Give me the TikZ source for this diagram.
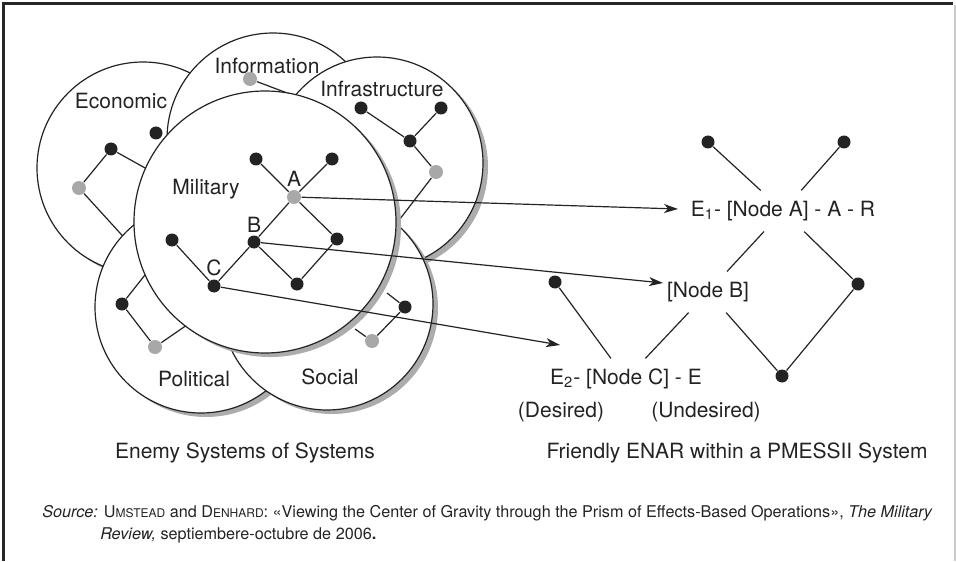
\documentclass[tikz,border=0pt]{standalone}
\usepackage{fontspec}
\setmainfont{TeX Gyre Heros}
\usetikzlibrary{arrows.meta, positioning, shadows}
\definecolor{inkgray}{RGB}{35,35,35}
\definecolor{dotgray}{RGB}{168,168,168}
\definecolor{shadegray}{RGB}{172,172,172}

\begin{document}
\begin{tikzpicture}[x=0.5pt, y=-0.5pt, line width=0.6pt, color=inkgray,
  font=\fontsize{10.5}{12.6}\selectfont,
  sys/.style={circle, draw=inkgray, fill=white, inner sep=0pt,
    drop shadow={shadow xshift=2.5pt, shadow yshift=-2pt, fill=shadegray, opacity=1}},
  outer/.style={sys, minimum size=106pt},
  bdot/.style={circle, fill=inkgray, inner sep=0pt, minimum size=6.5pt},
  gdot/.style={circle, fill=dotgray, inner sep=0pt, minimum size=7pt},
  tag/.style={label={[inner sep=1pt]above:#1}},
  effect/.style={inner sep=2pt, minimum height=20pt},
  hit/.style={-{Stealth[length=7pt, width=4.5pt, inset=2pt]}},
  srcfont/.style={font=\fontsize{8.1}{9.7}\selectfont}
]
\useasboundingbox (0,0) rectangle (956,561);

% frame
\draw[line width=1.5pt, black!85] (3,561) -- (3,4) -- (953,4);
\draw[line width=0.8pt, black!20] (955,5) -- (955,561);

% economic
\node[outer] (econ) at (143,168) {};
\node (econlbl) at (121,101) {Economic};
\node[bdot] (e1) at (111,149) {};
\node[gdot] (e2) at (79,188) {};
\node[bdot] (e3) at (156,133) {};
\coordinate (e1end) at (190,193);
\coordinate (e2end) at (150,266);
\draw (e2) -- (e1) -- (e1end);
\draw (e2) -- (e2end);

% information
\node[outer] (info) at (273,139) {};
\node (infolbl) at (267,66) {Information};
\node[gdot] (i1) at (250,79) {};
\coordinate (i1end) at (340,113);
\draw (i1) -- (i1end);

% infrastructure
\node[outer] (infra) at (377,163) {};
\node (infralbl) at (382,89) {Infrastructure};
\node[bdot] (f1) at (361,108) {};
\node[bdot] (f2) at (441,108) {};
\node[bdot] (f3) at (410,141) {};
\node[gdot] (f4) at (436,172) {};
\coordinate (f4end) at (380,245);
\draw (f1) -- (f3) -- (f2);
\draw (f3) -- (f4) -- (f4end);

% political
\node[outer] (pol) at (201,307) {};
\node (pollbl) at (194,379) {Political};
\node[bdot] (p1) at (122,304) {};
\node[gdot] (p2) at (155,347) {};
\coordinate (p1end) at (160,256);
\coordinate (p2end) at (200,316);
\draw (p1end) -- (p1) -- (p2) -- (p2end);

% social
\node[outer] (soc) at (327,304) {};
\node (soclbl) at (330,377) {Social};
\node[bdot] (s1) at (405,307) {};
\node[gdot] (s2) at (372,341) {};
\coordinate (s1end) at (387,293);
\coordinate (s2end) at (355,329);
\draw (s1end) -- (s1) -- (s2) -- (s2end);

% military
\node[sys, minimum size=131pt] (mil) at (265,222) {};
\node (millbl) at (206,189) {Military};
\node[bdot] (m1) at (256,159) {};
\node[bdot] (m2) at (332,159) {};
\node[gdot, tag=A] (mA) at (294,197) {};
\node[bdot] (m3) at (337,239) {};
\node[bdot, tag=B] (mB) at (254,242) {};
\node[bdot] (m4) at (172,240) {};
\node[bdot, tag=C] (mC) at (214,286) {};
\node[bdot] (m5) at (297,284) {};
\draw (m1) -- (mA) -- (m2);
\draw (mA) -- (mB) -- (mC) -- (m4);
\draw (mA) -- (m3) -- (m5) -- (mB);

% friendly ENAR
\node[effect] (nodeA) at (783,211) {E\textsubscript{1}- [Node A] - A - R};
\node[effect] (nodeB) at (708,292) {[Node B]};
\node[effect] (nodeC) at (626,379) {E\textsubscript{2}- [Node C] - E};
\node (desired) at (561,412) {(Desired)};
\node (undesired) at (706,412) {(Undesired)};
\node[bdot] (r1) at (708,142) {};
\node[bdot] (r2) at (844,142) {};
\node[bdot] (r3) at (555,282) {};
\node[bdot] (r4) at (858,284) {};
\node[bdot] (r5) at (782,376) {};
\draw (r1) -- (nodeA);
\draw (r2) -- (nodeA);
\draw (nodeA) -- (nodeB);
\draw (nodeA) -- (r4) -- (r5) -- (nodeB);
\draw (nodeB) -- (nodeC);
\draw (r3) -- (nodeC);

% arrows
\coordinate (tipA) at (678,209);
\coordinate (tipB) at (663,283);
\coordinate (tipC) at (560,345);
\draw[hit] (mA) -- (tipA);
\draw[hit] (mB) -- (tipB);
\draw[hit] (mC) -- (tipC);

% captions
\node (enemy) at (245,453) {Enemy Systems of Systems};
\node (friendly) at (737,453) {Friendly ENAR within a PMESSII System};
\node[srcfont, anchor=west] (src) at (35,513) {\textit{Source:} U{\fontsize{6}{7}\selectfont MSTEAD} and D{\fontsize{6}{7}\selectfont ENHARD}: «Viewing the Center of Gravity through the Prism of Effects-Based Operations», \textit{The Military}};
\node[srcfont, anchor=west] (srcb) at (93,535) {\textit{Review,} septiembere-octubre de 2006\textbf{.}};
\end{tikzpicture}
\end{document}
